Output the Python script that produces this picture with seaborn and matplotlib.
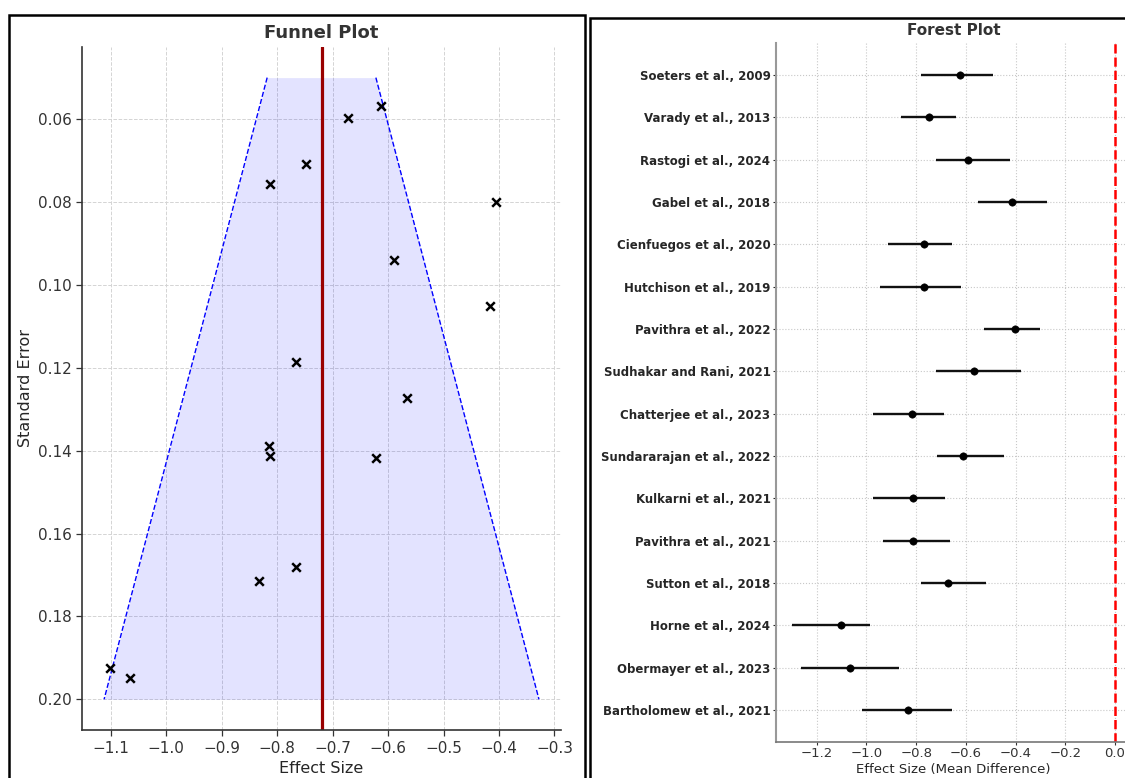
import numpy as np
import seaborn as sns
import matplotlib.pyplot as plt
from matplotlib.patches import Rectangle
from matplotlib.ticker import MultipleLocator

# Studies (top to bottom in the forest plot)
studies = [
    'Soeters et al., 2009', 'Varady et al., 2013', 'Rastogi et al., 2024',
    'Gabel et al., 2018', 'Cienfuegos et al., 2020', 'Hutchison et al., 2019',
    'Pavithra et al., 2022', 'Sudhakar and Rani, 2021', 'Chatterjee et al., 2023',
    'Sundararajan et al., 2022', 'Kulkarni et al., 2021', 'Pavithra et al., 2021',
    'Sutton et al., 2018', 'Horne et al., 2024', 'Obermayer et al., 2023',
    'Bartholomew et al., 2021',
]
effect = [-0.622, -0.748, -0.591, -0.414, -0.768, -0.768, -0.404, -0.567,
          -0.815, -0.613, -0.812, -0.814, -0.673, -1.103, -1.067, -0.834]
ci_low = [-0.782, -0.862, -0.720, -0.552, -0.912, -0.945, -0.526, -0.720,
          -0.973, -0.717, -0.973, -0.932, -0.779, -1.299, -1.264, -1.016]
ci_high = [-0.492, -0.641, -0.424, -0.272, -0.656, -0.619, -0.302, -0.379,
           -0.689, -0.446, -0.684, -0.662, -0.519, -0.987, -0.871, -0.657]

# Funnel plot points
funnel_effect = [-0.621, -0.748, -0.590, -0.416, -0.766, -0.766, -0.405, -0.566,
                 -0.813, -0.612, -0.814, -0.813, -0.672, -1.102, -1.065, -0.832]
funnel_se = [0.1419, 0.0709, 0.0939, 0.1051, 0.1186, 0.1680, 0.0800, 0.1273,
             0.0756, 0.0569, 0.1390, 0.1413, 0.0598, 0.1925, 0.1949, 0.1714]

# Funnel (pseudo 95% limits) corners and pooled effect
funnel_se_edges = [0.05, 0.20]
funnel_left = [-0.818, -1.112]
funnel_right = [-0.622, -0.328]
pooled_effect = -0.72

sns.set_style('whitegrid')
plt.rcParams['font.family'] = ['DejaVu Sans']
plt.rcParams['text.color'] = '#262626'
plt.rcParams['axes.labelcolor'] = '#262626'

fig = plt.figure(figsize=(11.25, 7.78), dpi=100)

# ---------------- Funnel plot ----------------
ax1 = fig.add_axes([0.0732, 0.0612, 0.4252, 0.879])
ax1.fill_betweenx(funnel_se_edges, funnel_left, funnel_right,
                  color='blue', alpha=0.11, lw=0)
ax1.plot(funnel_left, funnel_se_edges, color='blue', ls='--', lw=1)
ax1.plot(funnel_right, funnel_se_edges, color='blue', ls='--', lw=1)
ax1.axvline(pooled_effect, color='#990000', lw=2.3)
sns.scatterplot(x=funnel_effect, y=funnel_se, marker='x', color='black',
                s=38, linewidth=1.8, ax=ax1, zorder=4)
ax1.invert_yaxis()
ax1.xaxis.set_major_locator(MultipleLocator(0.1))
ax1.yaxis.set_major_locator(MultipleLocator(0.02))
ax1.grid(True, ls='--', color='#d4d4d4', lw=0.7)
ax1.set_title('Funnel Plot', fontsize=13, fontweight='bold', color='#333333')
ax1.set_xlabel('Effect Size', fontsize=11.5)
ax1.set_ylabel('Standard Error', fontsize=11.5)
ax1.tick_params(axis='both', labelsize=11, colors='#333333', length=4,
                width=0.9, left=True, bottom=True)
sns.despine(ax=ax1)
for s in ['left', 'bottom']:
    ax1.spines[s].set_color('#333333')
    ax1.spines[s].set_linewidth(1.2)

# ---------------- Forest plot ----------------
ax2 = fig.add_axes([0.6898, 0.0466, 0.3156, 0.8978])
ypos = np.arange(len(studies))
ax2.hlines(ypos, ci_low, ci_high, color='#111111', lw=1.7, zorder=3)
sns.scatterplot(x=effect, y=ypos, color='black', s=28, edgecolor='black',
                ax=ax2, zorder=4)
ax2.axvline(0, color='red', ls='--', lw=1.8)
ax2.set_yticks(ypos)
ax2.set_yticklabels(studies, fontweight='bold', fontsize=8.5)
ax2.invert_yaxis()
ax2.xaxis.set_major_locator(MultipleLocator(0.2))
ax2.grid(True, ls=':', color='#c8c8c8', lw=0.8)
ax2.set_title('Forest Plot', fontsize=11, fontweight='bold', color='#333333')
ax2.set_xlabel('Effect Size (Mean Difference)', fontsize=9.5, labelpad=2)
ax2.tick_params(axis='x', labelsize=9.5, colors='#333333', length=2,
                pad=2, bottom=True)
ax2.tick_params(axis='y', colors='#262626', length=2, pad=2, left=True)
sns.despine(ax=ax2)
ax2.spines['left'].set_color('#999999')
ax2.spines['left'].set_linewidth(1.5)
ax2.spines['bottom'].set_color('#777777')
ax2.spines['bottom'].set_linewidth(1.2)

# Black frames around the two panels
fig.add_artist(Rectangle((0.008, -0.02), 0.512, 1.0007, transform=fig.transFigure,
                         fill=False, ec='black', lw=1.8, clip_on=False))
fig.add_artist(Rectangle((0.5244, -0.02), 0.55, 0.9969, transform=fig.transFigure,
                         fill=False, ec='black', lw=1.8, clip_on=False))

fig.savefig('out.png', dpi=100)
